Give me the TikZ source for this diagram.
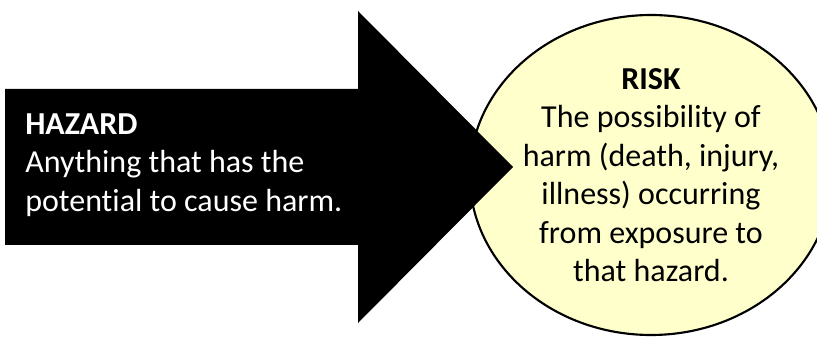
\documentclass[tikz,border=0pt]{standalone}
\usepackage{fontspec}
\setmainfont{Carlito}[Ligatures={NoCommon}]
\usepackage{xcolor}
\usepackage{tikz}
\usetikzlibrary{positioning,shapes.geometric}

\definecolor{riskyellow}{HTML}{FFFFCC}

\begin{document}
\begin{tikzpicture}[x=0.75pt,y=-0.75pt,
    every node/.style={font=\fontsize{24}{28.9}\selectfont}]
    \useasboundingbox (0,0) rectangle (817,338);

    % Ellipse
    \node [draw, ellipse, line width=1.6pt, fill=riskyellow, align=center,
      minimum width=264pt, minimum height=240pt, inner sep=0pt] (risk) at (651,175)
      {\textbf{RISK}\\ The possibility of\\ harm (death, injury,\\
      illness) occurring\\ from exposure to\\ that hazard.};

    % Arrow
    \fill [black] (5,89) -- (358,89) -- (358,11) -- (513,167) -- (358,323)
      -- (358,245) -- (5,245) -- cycle;
    \node [text=white, align=left, anchor=west, inner sep=0pt] (hazard) at (25,165)
      {\textbf{HAZARD}\\ Anything that has the\\ potential to cause harm.};
\end{tikzpicture}
\end{document}
